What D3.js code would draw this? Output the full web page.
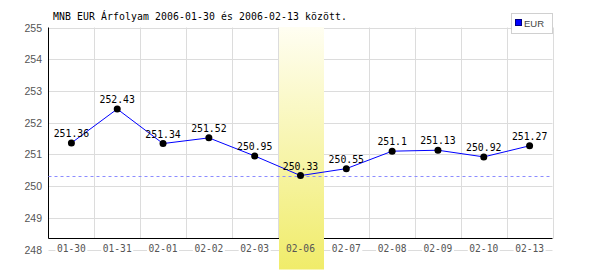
<!DOCTYPE html>
<html>
<head>
<meta charset="utf-8">
<script src="https://cdn.jsdelivr.net/npm/d3@7"></script>
<style>
  body { margin: 0; background: #fff; }
  svg { display: block; }
</style>
</head>
<body>
<div id="chart"></div>
<script>
// data
var dates = ['01-30', '01-31', '02-01', '02-02', '02-03', '02-06', '02-07', '02-08', '02-09', '02-10', '02-13'];
var rates = [251.36, 252.43, 251.34, 251.52, 250.95, 250.33, 250.55, 251.1, 251.13, 250.92, 251.27];
var yTicks = [248, 249, 250, 251, 252, 253, 254, 255];
var highlight = '02-06';
var seriesName = 'EUR';
var title = 'MNB EUR Árfolyam 2006-01-30 és 2006-02-13 között.';

var width = 600, height = 270;
var plotLeft = 48.5, plotRight = 552.5, plotTop = 27.5, axisY = 238.5;
var mono = '"DejaVu Sans Mono", monospace';

var svg = d3.select('#chart').append('svg')
  .attr('width', width)
  .attr('height', height);

var x = d3.scaleBand().domain(dates).range([plotLeft, plotRight]);
var y = d3.scaleLinear().domain([248, 255]).range([249.5, plotTop]);

// gradient for the highlighted day
var grad = svg.append('defs').append('linearGradient')
  .attr('id', 'hl').attr('x1', 0).attr('y1', 0).attr('x2', 0).attr('y2', 1);
grad.append('stop').attr('offset', '0%').attr('stop-color', '#fffef2');
grad.append('stop').attr('offset', '100%').attr('stop-color', '#f0ec6a');

// horizontal grid
svg.append('g').selectAll('line')
  .data(yTicks)
  .enter().append('line')
  .attr('x1', plotLeft).attr('x2', plotRight)
  .attr('y1', function (d) { return Math.round(y(d)) + 0.5; })
  .attr('y2', function (d) { return Math.round(y(d)) + 0.5; })
  .attr('stroke', '#dcdcdc');

// vertical grid at band edges
svg.append('g').selectAll('line')
  .data(dates)
  .enter().append('line')
  .attr('x1', function (d) { return Math.round(x(d) + x.bandwidth()) + 0.5; })
  .attr('x2', function (d) { return Math.round(x(d) + x.bandwidth()) + 0.5; })
  .attr('y1', plotTop).attr('y2', axisY)
  .attr('stroke', '#dcdcdc');

// white patches behind x labels
svg.append('g').selectAll('rect')
  .data(dates)
  .enter().append('rect')
  .attr('x', function (d) { return x(d) + x.bandwidth() / 2 - 16; })
  .attr('y', 243).attr('width', 32).attr('height', 11)
  .attr('fill', '#fff');

// axes lines
svg.append('line')
  .attr('x1', plotLeft).attr('x2', plotLeft).attr('y1', plotTop).attr('y2', axisY)
  .attr('stroke', '#000');
svg.append('line')
  .attr('x1', plotLeft).attr('x2', plotRight).attr('y1', axisY).attr('y2', axisY)
  .attr('stroke', '#000');

// highlight band
svg.append('rect')
  .attr('x', Math.round(x(highlight)) + 1)
  .attr('y', plotTop - 0.5)
  .attr('width', Math.round(x.bandwidth()) - 1)
  .attr('height', height - plotTop)
  .attr('fill', 'url(#hl)');

// y labels
svg.append('g').selectAll('text')
  .data(yTicks)
  .enter().append('text')
  .attr('x', 42)
  .attr('y', function (d) { return y(d) + 4; })
  .attr('text-anchor', 'end')
  .attr('font-family', '"Liberation Sans", Arial, sans-serif')
  .attr('font-size', 10.5)
  .attr('fill', '#555')
  .text(function (d) { return d; });

// x labels
svg.append('g').selectAll('text')
  .data(dates)
  .enter().append('text')
  .attr('x', function (d) { return x(d) + x.bandwidth() / 2; })
  .attr('y', 252)
  .attr('text-anchor', 'middle')
  .attr('font-family', mono)
  .attr('font-size', 9.6)
  .attr('fill', '#555')
  .text(function (d) { return d; });

// minimum line
var minVal = d3.min(rates);
svg.append('line')
  .attr('x1', plotLeft).attr('x2', plotRight)
  .attr('y1', Math.round(y(minVal)) + 0.5)
  .attr('y2', Math.round(y(minVal)) + 0.5)
  .attr('stroke', '#8c8cff')
  .attr('stroke-dasharray', '3,3');

// series line
var line = d3.line()
  .x(function (d, i) { return x(dates[i]) + x.bandwidth() / 2; })
  .y(function (d) { return y(d); });

svg.append('path')
  .datum(rates)
  .attr('d', line)
  .attr('fill', 'none')
  .attr('stroke', '#0000ff')
  .attr('stroke-width', 1);

svg.append('g').selectAll('circle')
  .data(rates)
  .enter().append('circle')
  .attr('cx', function (d, i) { return x(dates[i]) + x.bandwidth() / 2; })
  .attr('cy', function (d) { return y(d); })
  .attr('r', 3.5)
  .attr('fill', '#000');

// value labels
svg.append('g').selectAll('text')
  .data(rates)
  .enter().append('text')
  .attr('x', function (d, i) { return x(dates[i]) + x.bandwidth() / 2; })
  .attr('y', function (d) { return y(d) - 6; })
  .attr('text-anchor', 'middle')
  .attr('font-family', mono)
  .attr('font-size', 9.8)
  .attr('fill', '#000')
  .text(function (d) { return d; });

// title
svg.append('text')
  .attr('x', 53)
  .attr('y', 19.5)
  .attr('font-family', mono)
  .attr('font-size', 9.8)
  .attr('textLength', 294)
  .attr('lengthAdjust', 'spacing')
  .attr('fill', '#000')
  .text(title);

// legend
var legend = svg.append('g');
legend.append('rect')
  .attr('x', 511.5).attr('y', 13.5).attr('width', 41).attr('height', 20)
  .attr('fill', '#fff').attr('stroke', '#d0d0d0');
legend.append('rect')
  .attr('x', 515.5).attr('y', 19.5).attr('width', 6).attr('height', 6)
  .attr('fill', '#0000ff').attr('stroke', '#000080');
legend.append('text')
  .attr('x', 524).attr('y', 26.5)
  .attr('font-family', '"Liberation Sans", Arial, sans-serif')
  .attr('font-size', 9.5)
  .attr('fill', '#444')
  .text(seriesName);
</script>
</body>
</html>
